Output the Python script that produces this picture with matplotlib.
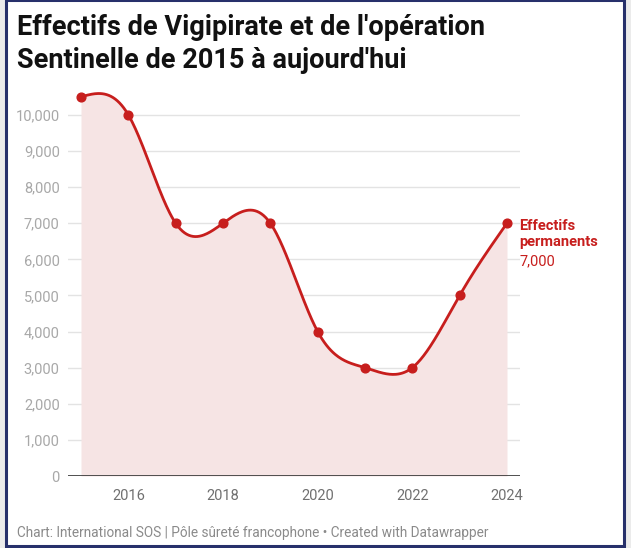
import numpy as np
import matplotlib.pyplot as plt
from matplotlib.patches import Rectangle

years = [2015, 2016, 2017, 2018, 2019, 2020, 2021, 2022, 2023, 2024]
effectifs = [10500, 10000, 7000, 7000, 7000, 4000, 3000, 3000, 5000, 7000]
yticks = [0, 1000, 2000, 3000, 4000, 5000, 6000, 7000, 8000, 9000, 10000]
xticks = [2016, 2018, 2020, 2022, 2024]

RED = '#c71e1d'
FILL = '#f6e4e4'

plt.rcParams['font.family'] = ['Roboto', 'DejaVu Sans']


def natural_spline(x, y, n=400):
    # cubic spline with natural ends, only used to draw the smooth line
    x = np.asarray(x, float)
    y = np.asarray(y, float)
    k = len(x)
    h = np.diff(x)
    A = np.zeros((k, k))
    b = np.zeros(k)
    A[0, 0] = A[-1, -1] = 1
    for i in range(1, k - 1):
        A[i, i - 1] = h[i - 1]
        A[i, i] = 2 * (h[i - 1] + h[i])
        A[i, i + 1] = h[i]
        b[i] = 6 * ((y[i + 1] - y[i]) / h[i] - (y[i] - y[i - 1]) / h[i - 1])
    M = np.linalg.solve(A, b)
    xs = np.linspace(x[0], x[-1], n)
    idx = np.clip(np.searchsorted(x, xs) - 1, 0, k - 2)
    x0, x1 = x[idx], x[idx + 1]
    hh = x1 - x0
    t0 = x1 - xs
    t1 = xs - x0
    ys = (M[idx] * t0**3 + M[idx + 1] * t1**3) / (6 * hh) \
        + (y[idx] / hh - M[idx] * hh / 6) * t0 \
        + (y[idx + 1] / hh - M[idx + 1] * hh / 6) * t1
    return xs, ys


fig = plt.figure(figsize=(6.31, 5.48), dpi=100, facecolor='#ebebeb')
fig.patches.append(Rectangle((6 / 631, 2 / 548), 618 / 631, 546 / 548, transform=fig.transFigure,
                             facecolor='white', edgecolor='#27306b', linewidth=2.2, zorder=0))

ax = fig.add_axes([68 / 631, 1 - 476 / 548, 452 / 631, 390 / 548])
ax.set_facecolor('none')
ax.set_zorder(2)

xs, ys = natural_spline(years, effectifs)
ax.fill_between(xs, ys, 0, color=FILL, lw=0, zorder=1)
ax.plot(xs, ys, color=RED, lw=2, zorder=3, solid_capstyle='round')
ax.plot(years, effectifs, 'o', color=RED, ms=6.3, zorder=4)

ax.set_xlim(2014.725, 2024.275)
ax.set_ylim(0, 10800)
ax.set_yticks(yticks)
ax.set_yticklabels([f'{v:,}' for v in yticks])
ax.set_xticks(xticks)
ax.set_xticklabels([str(v) for v in xticks])
ax.grid(axis='y', color='#e3e3e3', lw=1, zorder=0)
ax.set_axisbelow(True)
ax.axhline(0, color='#333333', lw=1.2, zorder=5)
for s in ax.spines.values():
    s.set_visible(False)
ax.tick_params(axis='both', length=0)
ax.tick_params(axis='y', labelsize=10.5, labelcolor='#a8a8a8', pad=6)
ax.tick_params(axis='x', labelsize=10.5, labelcolor='#707070', pad=9)

ax.annotate('Effectifs\npermanents', xy=(years[-1], effectifs[-1]), xytext=(9, 3),
            textcoords='offset points', color=RED, fontsize=10.5, fontweight='bold',
            va='top', ha='left', linespacing=1.22)
ax.annotate(f'{effectifs[-1]:,}', xy=(years[-1], effectifs[-1]), xytext=(9, -22.5),
            textcoords='offset points', color=RED, fontsize=10.5, va='top', ha='left')

fig.text(17 / 631, 1 - 14 / 548, "Effectifs de Vigipirate et de l'opération\nSentinelle de 2015 à aujourd'hui",
         fontsize=19.5, fontweight='bold', color='#111111', va='top', ha='left', linespacing=1.3)
fig.text(17 / 631, 1 - 533 / 548, 'Chart: International SOS | Pôle sûreté francophone • Created with Datawrapper',
         fontsize=9.8, color='#8a8a8a', va='center', ha='left')

fig.savefig('out.png', dpi=100, facecolor=fig.get_facecolor())
